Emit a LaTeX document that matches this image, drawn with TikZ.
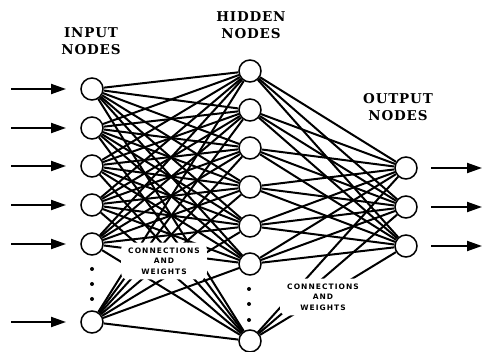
\documentclass[tikz,border=0pt]{standalone}
\usepackage{fontspec}
\setmainfont{DejaVu Serif}
\newfontfamily\headfont{DejaVu Serif}[LetterSpace=6]
\newfontfamily\notefont{DejaVu Sans}[LetterSpace=14]
\usetikzlibrary{arrows.meta}

\begin{document}
\begin{tikzpicture}[x=1pt,y=-1pt,
  neuron/.style={circle,draw,line width=1.5pt,fill=white,minimum size=22pt,inner sep=0pt},
  link/.style={line width=2pt},
  feed/.style={line width=2pt,-{Triangle[length=15pt,width=10pt]}},
  heading/.style={font=\headfont\bfseries\fontsize{13.5}{17}\selectfont,align=center,inner sep=0pt},
  note/.style={font=\notefont\bfseries\fontsize{7.5}{10.5}\selectfont,align=center,fill=white,
    inner xsep=7pt,inner ysep=5pt,rounded corners=6pt},
  ellip/.style={circle,fill,inner sep=0pt,minimum size=4pt}]
\useasboundingbox (0,0) rectangle (482,352);

% input layer
\foreach \n/\y in {1/89,2/128,3/166,4/205,5/244,6/322}
  \node[neuron] (i\n) at (92,\y) {};
% hidden layer
\foreach \n/\y in {1/71,2/110,3/148,4/187,5/226,6/264,7/341}
  \node[neuron] (h\n) at (250,\y) {};
% output layer
\foreach \n/\y in {1/168,2/207,3/246}
  \node[neuron] (o\n) at (406,\y) {};

% omitted nodes
\foreach \y in {269,284,299} \node[ellip] (di\y) at (92,\y) {};
\foreach \y in {289,304,320} \node[ellip] (dh\y) at (249,\y) {};

% weighted connections
\foreach \a in {1,...,6}
  \foreach \b in {1,...,7}
    \draw[link] (i\a) -- (h\b);
\foreach \b in {1,...,7}
  \foreach \c in {1,2,3}
    \draw[link] (h\b) -- (o\c);

% weight labels
\node[note] (w1) at (164,261) {CONNECTIONS\\AND\\WEIGHTS};
\node[note] (w2) at (323,297) {CONNECTIONS\\AND\\WEIGHTS};

% external inputs and outputs
\foreach \n/\y in {1/89,2/128,3/166,4/205,5/244,6/322} {
  \coordinate (s\n) at (11,\y);
  \coordinate (t\n) at (66,\y);
  \draw[feed] (s\n) -- (t\n);
}
\foreach \n/\y in {1/168,2/207,3/246} {
  \coordinate (u\n) at (431,\y);
  \coordinate (v\n) at (482,\y);
  \draw[feed] (u\n) -- (v\n);
}

% layer headings
\node[heading] (hin) at (91,41) {INPUT\\NODES};
\node[heading] (hhid) at (251,25) {HIDDEN\\NODES};
\node[heading] (hout) at (398,107) {OUTPUT\\NODES};
\end{tikzpicture}
\end{document}
